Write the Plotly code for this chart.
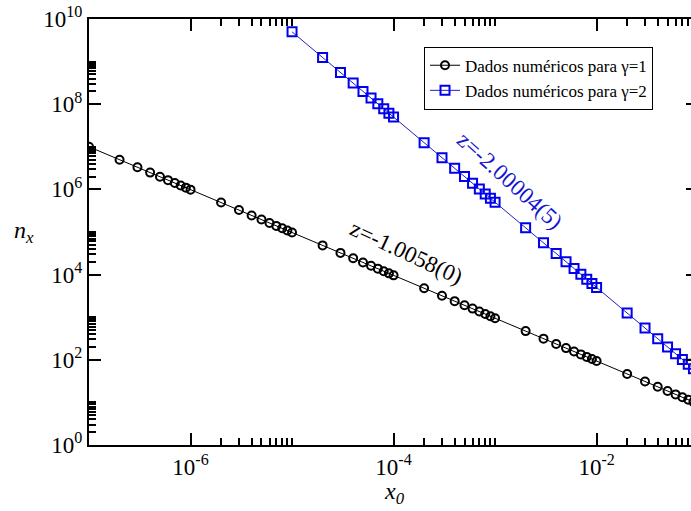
import plotly.graph_objects as go

# ---- data ----
x_g1 = [1e-7, 2e-7, 3e-7, 4e-7, 5e-7, 6e-7, 7e-7, 8e-7, 9e-7,
        1e-6, 2e-6, 3e-6, 4e-6, 5e-6, 6e-6, 7e-6, 8e-6, 9e-6,
        1e-5, 2e-5, 3e-5, 4e-5, 5e-5, 6e-5, 7e-5, 8e-5, 9e-5,
        1e-4, 2e-4, 3e-4, 4e-4, 5e-4, 6e-4, 7e-4, 8e-4, 9e-4,
        1e-3, 2e-3, 3e-3, 4e-3, 5e-3, 6e-3, 7e-3, 8e-3, 9e-3,
        1e-2, 2e-2, 3e-2, 4e-2, 5e-2, 6e-2, 7e-2, 8e-2, 9e-2, 1e-1]
n_g1 = [1.00e7, 4.98e6, 3.31e6, 2.48e6, 1.98e6, 1.65e6, 1.41e6, 1.235e6, 1.10e6,
        9.87e5, 4.91e5, 3.27e5, 2.45e5, 1.96e5, 1.63e5, 1.39e5, 1.22e5, 1.08e5,
        9.74e4, 4.85e4, 3.23e4, 2.42e4, 1.93e4, 1.61e4, 1.38e4, 1.20e4, 1.07e4,
        9.61e3, 4.78e3, 3.18e3, 2.38e3, 1.90e3, 1.59e3, 1.36e3, 1.19e3, 1.05e3,
        948, 472, 314, 235, 188, 156, 134, 117, 104,
        93.5, 46.6, 31.0, 23.2, 18.5, 15.4, 13.2, 11.6, 10.3, 9.23]

x_g2 = [1e-5, 2e-5, 3e-5, 4e-5, 5e-5, 6e-5, 7e-5, 8e-5, 9e-5,
        1e-4, 2e-4, 3e-4, 4e-4, 5e-4, 6e-4, 7e-4, 8e-4, 9e-4,
        1e-3, 2e-3, 3e-3, 4e-3, 5e-3, 6e-3, 7e-3, 8e-3, 9e-3,
        1e-2, 2e-2, 3e-2, 4e-2, 5e-2, 6e-2, 7e-2, 8e-2, 9e-2, 1e-1]
n_g2 = [5.0e9, 1.25e9, 5.56e8, 3.13e8, 2.0e8, 1.39e8, 1.02e8, 7.81e7, 6.17e7,
        5.0e7, 1.25e7, 5.56e6, 3.13e6, 2.0e6, 1.39e6, 1.02e6, 7.81e5, 6.17e5,
        5.0e5, 1.25e5, 5.56e4, 3.13e4, 2.0e4, 1.39e4, 1.02e4, 7.81e3, 6.17e3,
        5.0e3, 1.25e3, 556, 313, 200, 139, 102, 78.1, 61.7, 50.0]

y_major = [1e0, 1e2, 1e4, 1e6, 1e8, 1e10]
y_major_text = ["10<sup>0</sup>", "10<sup>2</sup>", "10<sup>4</sup>",
                "10<sup>6</sup>", "10<sup>8</sup>", "10<sup>10</sup>"]
x_major = [1e-6, 1e-4, 1e-2]
x_major_text = ["10<sup>-6</sup>", "10<sup>-4</sup>", "10<sup>-2</sup>"]
y_minor_mult = [2, 3, 4, 5, 6, 7, 8, 9, 10]

label_g1 = "Dados numéricos para γ=1"
label_g2 = "Dados numéricos para γ=2"
fit_g1 = "z=-1.0058(0)"
fit_g2 = "z=-2.00004(5)"

# ---- figure ----
FONT = "Liberation Serif, Times New Roman, serif"
y_minor = [m * 10 ** e for e in [0, 2, 4, 6, 8] for m in y_minor_mult]
x_minor = [m * 10.0 ** e for e in [-6, -4, -2] for m in y_minor_mult]

fig = go.Figure()
fig.add_trace(go.Scatter(
    x=x_g1, y=n_g1, mode="lines+markers", name=label_g1,
    line=dict(color="black", width=1),
    marker=dict(symbol="circle-open", size=8, color="black", line=dict(width=2)),
))
fig.add_trace(go.Scatter(
    x=x_g2, y=n_g2, mode="lines+markers", name=label_g2,
    line=dict(color="#2020c8", width=1),
    marker=dict(symbol="square-open", size=9, color="#0000ee", line=dict(width=2)),
))
# helper trace for the right-hand tick axis
fig.add_trace(go.Scatter(x=[None], y=[None], yaxis="y2", showlegend=False,
                         hoverinfo="skip"))

fig.update_layout(
    width=691, height=511,
    margin=dict(l=89, r=0, t=19, b=66),
    paper_bgcolor="white", plot_bgcolor="white",
    font=dict(family=FONT, color="black"),
    showlegend=True,
    legend=dict(x=0.5565, y=0.935, xanchor="left", yanchor="top",
                bgcolor="white", bordercolor="black", borderwidth=1,
                font=dict(family=FONT, size=17, color="black"),
                tracegroupgap=0, itemwidth=30),
    xaxis=dict(type="log", range=[-7, -1.07],
               showline=True, linecolor="black", linewidth=2, mirror="ticks",
               showgrid=False, zeroline=False,
               ticks="inside", ticklen=12, tickwidth=2, tickcolor="black",
               tickmode="array", tickvals=x_major, ticktext=x_major_text,
               tickfont=dict(family=FONT, size=23, color="black"),
               minor=dict(tickmode="array", tickvals=x_minor, ticks="inside",
                          ticklen=7, tickwidth=2, tickcolor="black", showgrid=False)),
    yaxis=dict(type="log", range=[0, 10],
               showline=True, linecolor="black", linewidth=2,
               showgrid=False, zeroline=False,
               ticks="inside", ticklen=12, tickwidth=2, tickcolor="black",
               tickmode="array", tickvals=y_major, ticktext=y_major_text,
               tickfont=dict(family=FONT, size=23, color="black"),
               minor=dict(tickmode="array", tickvals=y_minor, ticks="inside",
                          ticklen=7, tickwidth=2, tickcolor="black", showgrid=False)),
    yaxis2=dict(type="log", range=[0, 10], overlaying="y", side="right",
                showline=False, showgrid=False, zeroline=False,
                ticks="inside", ticklen=5, tickwidth=2, tickcolor="black",
                tickmode="array", tickvals=y_major, showticklabels=False),
)

fig.add_annotation(text=fit_g1, xref="paper", yref="paper", x=0.527, y=0.453,
                   xanchor="center", yanchor="middle",
                   showarrow=False, textangle=25,
                   font=dict(family=FONT, size=23, color="black"))
fig.add_annotation(text=fit_g2, xref="paper", yref="paper", x=0.699, y=0.622,
                   xanchor="center", yanchor="middle",
                   showarrow=False, textangle=42,
                   font=dict(family=FONT, size=23, color="#1515d0"))
fig.add_annotation(text="<i>n</i><sub><i>x</i></sub>", xref="paper", yref="paper",
                   x=-0.108, y=0.50, xanchor="center", yanchor="middle",
                   showarrow=False,
                   font=dict(family=FONT, size=24, color="black"))
fig.add_annotation(text="<i>x</i><sub><i>0</i></sub>", xref="paper", yref="paper",
                   x=0.508, y=-0.112, xanchor="center", yanchor="middle",
                   showarrow=False,
                   font=dict(family=FONT, size=24, color="black"))

fig.write_html("out.html")
